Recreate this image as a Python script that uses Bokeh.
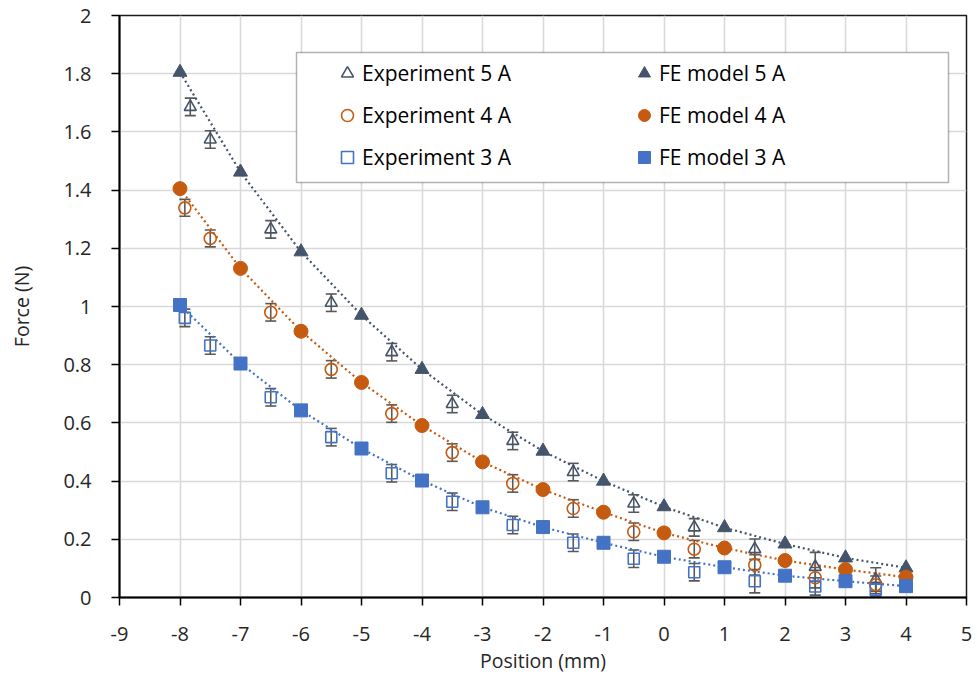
from bokeh.plotting import figure
from bokeh.models import (ColumnDataSource, Whisker, TeeHead, Legend, LegendItem,
                          FixedTicker, BoxAnnotation)
from bokeh.embed import file_html
from bokeh.resources import INLINE

# ---------------- data ----------------
fe_x = [-8, -7, -6, -5, -4, -3, -2, -1, 0, 1, 2, 3, 4]
fe_5A = [1.805, 1.462, 1.188, 0.970, 0.784, 0.629, 0.503, 0.400, 0.312, 0.240, 0.184, 0.136, 0.102]
fe_4A = [1.405, 1.131, 0.915, 0.739, 0.591, 0.466, 0.371, 0.293, 0.222, 0.170, 0.127, 0.096, 0.070]
fe_3A = [1.005, 0.804, 0.643, 0.512, 0.402, 0.310, 0.242, 0.188, 0.140, 0.104, 0.075, 0.056, 0.039]

exp5_x = [-7.83, -7.5, -6.5, -5.5, -4.5, -3.5, -2.5, -1.5, -0.5, 0.5, 1.5, 2.5, 3.5]
exp5_y = [1.686, 1.574, 1.265, 1.013, 0.843, 0.665, 0.538, 0.431, 0.323, 0.241, 0.166, 0.105, 0.062]
exp5_err = [0.03, 0.03, 0.03, 0.03, 0.03, 0.03, 0.03, 0.03, 0.03, 0.03, 0.035, 0.05, 0.04]

exp4_x = [-7.92, -7.5, -6.5, -5.5, -4.5, -3.5, -2.5, -1.5, -0.5, 0.5, 1.5, 2.5, 3.5]
exp4_y = [1.339, 1.234, 0.980, 0.784, 0.632, 0.498, 0.392, 0.306, 0.226, 0.166, 0.112, 0.068, 0.044]
exp4_err = [0.029, 0.029, 0.03, 0.03, 0.03, 0.03, 0.03, 0.03, 0.03, 0.03, 0.035, 0.035, 0.03]

exp3_x = [-7.92, -7.5, -6.5, -5.5, -4.5, -3.5, -2.5, -1.5, -0.5, 0.5, 1.5, 2.5, 3.5]
exp3_y = [0.961, 0.866, 0.688, 0.551, 0.427, 0.329, 0.249, 0.188, 0.133, 0.087, 0.056, 0.038, 0.027]
exp3_err = [0.03, 0.03, 0.03, 0.03, 0.03, 0.03, 0.03, 0.03, 0.03, 0.03, 0.04, 0.03, 0.025]

x_ticks = [-9, -8, -7, -6, -5, -4, -3, -2, -1, 0, 1, 2, 3, 4, 5]
x_tick_labels = ["-9", "-8", "-7", "-6", "-5", "-4", "-3", "-2", "-1", "0", "1", "2", "3", "4", "5"]
y_ticks = [0, 0.2, 0.4, 0.6, 0.8, 1, 1.2, 1.4, 1.6, 1.8, 2]
y_tick_labels = ["0", "0.2", "0.4", "0.6", "0.8", "1", "1.2", "1.4", "1.6", "1.8", "2"]

legend_labels_exp = ["Experiment 5 A", "Experiment 4 A", "Experiment 3 A"]
legend_labels_fe = ["FE model 5 A", "FE model 4 A", "FE model 3 A"]

colors = ["#44546A", "#C55A11", "#4472C4"]
markers = ["triangle", "circle", "square"]
exp_sizes = [12, 12, 11]
fe_sizes = [14, 14, 13]
err_color = "#595959"
FONT = "Open Sans"
TXT = "#262626"

# ---------------- figure ----------------
p = figure(width=975, height=677, x_range=(-9, 5), y_range=(0, 2),
           output_backend="svg", toolbar_location=None,
           min_border_left=119, min_border_right=9, min_border_top=15, min_border_bottom=80)
p.background_fill_color = "white"
p.border_fill_color = "white"
p.outline_line_color = "#1a1a1a"
p.outline_line_width = 1.5

for ax in (p.xaxis[0], p.yaxis[0]):
    ax.axis_line_color = "black"
    ax.axis_line_width = 2
    ax.major_tick_line_color = "black"
    ax.major_tick_line_width = 1.5
    ax.major_tick_out = 8
    ax.major_tick_in = 0
    ax.minor_tick_line_color = None
    ax.major_label_text_font = FONT
    ax.major_label_text_font_size = "20px"
    ax.major_label_text_color = TXT
    ax.axis_label_text_font = FONT
    ax.axis_label_text_font_size = "19.5px"
    ax.axis_label_text_font_style = "normal"
    ax.axis_label_text_color = TXT

p.xaxis.ticker = FixedTicker(ticks=x_ticks)
p.xaxis.major_label_overrides = {t: l for t, l in zip(x_ticks, x_tick_labels)}
p.yaxis.ticker = FixedTicker(ticks=y_ticks)
p.yaxis.major_label_overrides = {t: l for t, l in zip(y_ticks, y_tick_labels)}
p.xaxis.axis_label = "Position (mm)"
p.yaxis.axis_label = "Force (N)"
p.xaxis.major_label_standoff = 21
p.yaxis.major_label_standoff = 20
p.xaxis.axis_label_standoff = 3
p.yaxis.axis_label_standoff = 25

p.xgrid.grid_line_color = "#D9D9D9"
p.ygrid.grid_line_color = "#D9D9D9"
p.xgrid.grid_line_width = 1.6
p.ygrid.grid_line_width = 1.6
p.xgrid.ticker = FixedTicker(ticks=x_ticks)
p.ygrid.ticker = FixedTicker(ticks=y_ticks)

fe_series = [fe_5A, fe_4A, fe_3A]
exp_series = [(exp5_x, exp5_y, exp5_err), (exp4_x, exp4_y, exp4_err), (exp3_x, exp3_y, exp3_err)]

# dotted trend lines
for fe, c in zip(fe_series, colors):
    p.line(fe_x, fe, line_color=c, line_width=2.2, line_dash="2 3")

# error bars
for (ex, ey, ee) in exp_series:
    src = ColumnDataSource(dict(x=ex, y=ey,
                                upper=[a + b for a, b in zip(ey, ee)],
                                lower=[a - b for a, b in zip(ey, ee)]))
    w = Whisker(source=src, base="x", upper="upper", lower="lower",
                line_color=err_color, line_width=1.6,
                upper_head=TeeHead(size=11, line_color=err_color, line_width=1.6),
                lower_head=TeeHead(size=11, line_color=err_color, line_width=1.6))
    p.add_layout(w)

exp_renderers = []
for (ex, ey, ee), c, m, s in zip(exp_series, colors, markers, exp_sizes):
    r = p.scatter(ex, ey, marker=m, size=s, fill_color=None, line_color=c, line_width=1.6)
    exp_renderers.append(r)

fe_renderers = []
for fe, c, m, s in zip(fe_series, colors, markers, fe_sizes):
    r = p.scatter(fe_x, fe, marker=m, size=s, fill_color=c, line_color=c, line_width=1)
    fe_renderers.append(r)

# legend frame
box = BoxAnnotation(left=296, right=948, top=52, bottom=182,
                    left_units="canvas", right_units="canvas",
                    top_units="canvas", bottom_units="canvas",
                    fill_color="white", fill_alpha=1.0,
                    line_color="black", line_width=1.5)
p.add_layout(box)

items = [LegendItem(label=l, renderers=[r]) for l, r in zip(legend_labels_exp, exp_renderers)] + \
        [LegendItem(label=l, renderers=[r]) for l, r in zip(legend_labels_fe, fe_renderers)]
legend = Legend(items=items, ncols=2, location=(213, 425),
                glyph_width=30, glyph_height=30, label_height=30, label_width=255,
                label_standoff=0, spacing=12, padding=8,
                label_text_font=FONT, label_text_font_size="21px", label_text_color="black",
                background_fill_alpha=0, border_line_color=None)
p.add_layout(legend)

open("out.html", "w").write(file_html(p, INLINE))
